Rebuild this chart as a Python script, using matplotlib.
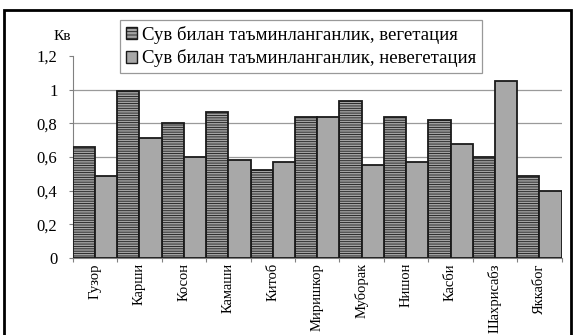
import numpy as np
import matplotlib.pyplot as plt
import matplotlib.patches as mpatches

plt.rcParams['font.family'] = ['Liberation Serif', 'DejaVu Serif']
plt.rcParams['hatch.color'] = '#7a7a7a'
plt.rcParams['hatch.linewidth'] = 0.6

districts = ['Гузор', 'Карши', 'Косон', 'Камаши', 'Китоб', 'Миришкор',
             'Муборак', 'Нишон', 'Касби', 'Шахрисабз', 'Яккабог']
vegetation = [0.66, 0.99, 0.80, 0.87, 0.52, 0.84, 0.93, 0.84, 0.82, 0.60, 0.49]
non_vegetation = [0.49, 0.71, 0.60, 0.58, 0.57, 0.84, 0.55, 0.57, 0.68, 1.05, 0.40]
y_ticks = [0, 0.2, 0.4, 0.6, 0.8, 1, 1.2]
y_labels = ['0', '0,2', '0,4', '0,6', '0,8', '1', '1,2']
legend_labels = ['Сув билан таъминланганлик, вегетация',
                 'Сув билан таъминланганлик, невегетация']

W, H = 577, 335
fig = plt.figure(figsize=(W / 100, H / 100), dpi=100)

# рамка вокруг всей диаграммы (нижний край уходит за обрез)
frame = mpatches.Rectangle((4 / W, -0.05), 567 / W, 0.05 + 1 - 10 / H,
                           transform=fig.transFigure, fill=False,
                           edgecolor='black', linewidth=2)
fig.patches.append(frame)

ax = fig.add_axes([72.7 / W, 77 / H, 489 / W, 202 / H])
x = np.arange(len(districts))
w = 0.5
ax.bar(x - w / 2, vegetation, w, color='#a3a3a3', edgecolor='#1a1a1a',
       linewidth=1.3, hatch='-------', zorder=3)
ax.bar(x + w / 2, non_vegetation, w, color='#a8a8a8', edgecolor='#1a1a1a',
       linewidth=1.3, zorder=3)

ax.set_xlim(-0.5, len(districts) - 0.5)
ax.set_ylim(0, 1.2)
ax.set_yticks(y_ticks)
ax.set_yticklabels(y_labels, fontsize=12)
for v in y_ticks[1:-1]:
    ax.axhline(v, color='#9a9a9a', linewidth=0.9, zorder=1)

ax.set_xticks(np.arange(len(districts) + 1) - 0.5)
ax.set_xticklabels([])
ax.tick_params(axis='x', direction='out', length=3, color='#808080')
ax.tick_params(axis='y', direction='out', length=3, color='#808080', pad=8)
for s in ['top', 'right']:
    ax.spines[s].set_visible(False)
ax.spines['left'].set_color('#808080')
ax.spines['bottom'].set_color('#808080')

for i, name in enumerate(districts):
    ax.text(i, -0.03, name, rotation=90, ha='center', va='top', fontsize=10.5)

fig.text(62 / W, 1 - 36 / H, 'Кв', ha='center', va='center', fontsize=11)

handles = [mpatches.Patch(facecolor='#a3a3a3', edgecolor='#1a1a1a', hatch='-----'),
           mpatches.Patch(facecolor='#a8a8a8', edgecolor='#1a1a1a')]
leg = fig.legend(handles, legend_labels, loc='upper left',
                 bbox_to_anchor=(120 / W, 1 - 20 / H), fontsize=13.5, frameon=True,
                 fancybox=False, edgecolor='#808080', handlelength=0.6,
                 handleheight=0.6, handletextpad=0.3, borderpad=0.3,
                 labelspacing=0.3, borderaxespad=0)
leg.get_frame().set_linewidth(0.9)

fig.savefig('out.png', dpi=100)
